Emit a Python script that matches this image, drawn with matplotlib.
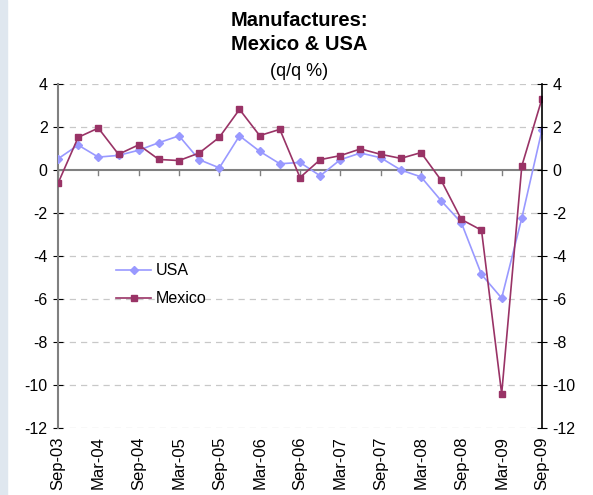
import numpy as np
import matplotlib
matplotlib.use("Agg")
import matplotlib.pyplot as plt
from matplotlib.patches import Rectangle

plt.rcParams['font.family'] = ['Liberation Sans', 'DejaVu Sans']
plt.rcParams['axes.unicode_minus'] = False

# quarterly q/q % growth, Sep-03 .. Sep-09
quarters = ['Sep-03', 'Dec-03', 'Mar-04', 'Jun-04', 'Sep-04', 'Dec-04', 'Mar-05', 'Jun-05',
            'Sep-05', 'Dec-05', 'Mar-06', 'Jun-06', 'Sep-06', 'Dec-06', 'Mar-07', 'Jun-07',
            'Sep-07', 'Dec-07', 'Mar-08', 'Jun-08', 'Sep-08', 'Dec-08', 'Mar-09', 'Jun-09',
            'Sep-09']
usa = [0.52, 1.16, 0.60, 0.68, 0.92, 1.27, 1.59, 0.48, 0.10, 1.59, 0.87, 0.29, 0.35,
       -0.27, 0.48, 0.79, 0.57, 0.0, -0.32, -1.43, -2.45, -4.86, -5.96, -2.23, 1.87]
mexico = [-0.62, 1.52, 1.95, 0.73, 1.17, 0.49, 0.44, 0.79, 1.52, 2.82, 1.60, 1.89, -0.35,
          0.48, 0.67, 0.98, 0.73, 0.54, 0.81, -0.48, -2.30, -2.80, -10.41, 0.19, 3.32]

usa_col = '#9999ff'
mex_col = '#993366'

fig = plt.figure(figsize=(5.93, 4.95), dpi=100)
fig.patches.append(Rectangle((0, 0), 7/593, 1, transform=fig.transFigure,
                             color='#dfe7ef', zorder=0))
ax = fig.add_axes([58/593, 1 - 428/495, 484/593, 344/495])

x = np.arange(len(quarters))
ax.plot(x, usa, color=usa_col, lw=1.2, marker='D', ms=4, label='USA', zorder=3)
ax.plot(x, mexico, color=mex_col, lw=1.2, marker='s', ms=4, label='Mexico', zorder=4)

ax.set_xlim(0, len(quarters) - 1)
ax.set_ylim(-12, 4)
ax.set_yticks(np.arange(-12, 5, 2))
for yv in np.arange(-12, 5, 2):
    if yv != 0:
        ax.axhline(yv, color='#c8c8c8', lw=0.9, ls=(0, (5, 4)), zorder=1)
ax.axhline(0, color='#808080', lw=1.5, zorder=2)

# x tick marks sit on the zero line
for xi in x[::2]:
    ax.plot([xi, xi], [0, -0.25], color='#808080', lw=1, zorder=2)

ax.set_xticks(x[::2])
ax.set_xticklabels(quarters[::2], rotation=90, fontsize=12)
ax.tick_params(axis='x', length=0, pad=6)
ax.tick_params(axis='y', direction='inout', length=7, labelsize=11.5, colors='black', pad=4)
for s in ['top', 'bottom', 'right']:
    ax.spines[s].set_visible(False)
ax.spines['left'].set_color('#808080')
ax.spines['left'].set_linewidth(1.5)

ax2 = ax.twinx()
ax2.set_ylim(-12, 4)
ax2.set_yticks(np.arange(-12, 5, 2))
ax2.tick_params(axis='y', direction='inout', length=7, labelsize=11.5, pad=4)
for s in ['top', 'bottom', 'left']:
    ax2.spines[s].set_visible(False)
ax2.spines['right'].set_color('black')
ax2.spines['right'].set_linewidth(1.2)

ax.legend(loc='upper left', bbox_to_anchor=(0.09, 0.52), frameon=False, fontsize=11.5,
          handlelength=2.2, handletextpad=0.3, labelspacing=0.8)

fig.text(0.505, 1 - 21/495, 'Manufactures:', ha='center', va='center', fontsize=14.5, fontweight='bold')
fig.text(0.505, 1 - 45/495, 'Mexico & USA', ha='center', va='center', fontsize=14.5, fontweight='bold')
fig.text(0.505, 1 - 72/495, '(q/q %)', ha='center', va='center', fontsize=13)

fig.savefig('out.png', dpi=100)
